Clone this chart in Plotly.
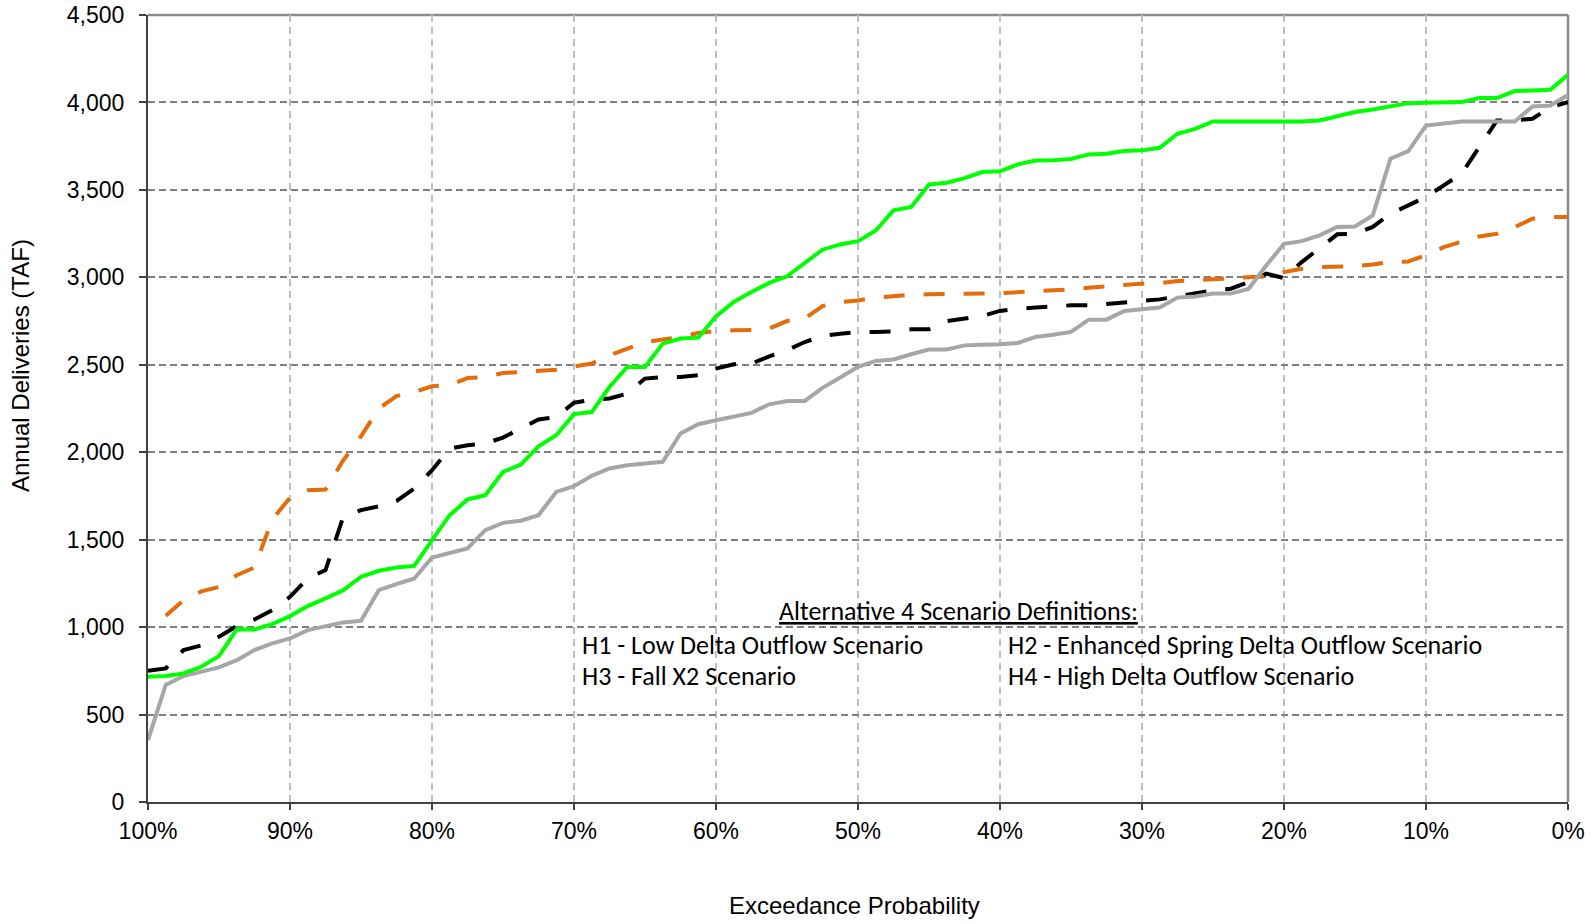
import plotly.graph_objects as go

# Exceedance probability (%) of each sorted annual value
exceedance = [
    100.0, 98.75, 97.5, 96.25, 95.0, 93.75, 92.5, 91.25, 90.0, 88.75,
    87.5, 86.25, 85.0, 83.75, 82.5, 81.25, 80.0, 78.75, 77.5, 76.25,
    75.0, 73.75, 72.5, 71.25, 70.0, 68.75, 67.5, 66.25, 65.0, 63.75,
    62.5, 61.25, 60.0, 58.75, 57.5, 56.25, 55.0, 53.75, 52.5, 51.25,
    50.0, 48.75, 47.5, 46.25, 45.0, 43.75, 42.5, 41.25, 40.0, 38.75,
    37.5, 36.25, 35.0, 33.75, 32.5, 31.25, 30.0, 28.75, 27.5, 26.25,
    25.0, 23.75, 22.5, 21.25, 20.0, 18.75, 17.5, 16.25, 15.0, 13.75,
    12.5, 11.25, 10.0, 8.75, 7.5, 6.25, 5.0, 3.75, 2.5, 1.25, 0.0,
]

green_solid = [
    716, 720, 735, 773, 834, 987, 986, 1017, 1063, 1120,
    1164, 1211, 1288, 1322, 1341, 1350, 1497, 1640, 1730, 1754,
    1887, 1929, 2034, 2097, 2218, 2230, 2373, 2488, 2488, 2621,
    2650, 2655, 2777, 2859, 2916, 2968, 3006, 3082, 3158, 3188,
    3207, 3268, 3383, 3402, 3531, 3541, 3567, 3602, 3606, 3646,
    3668, 3670, 3677, 3703, 3707, 3722, 3726, 3741, 3821, 3849,
    3891, 3891, 3891, 3891, 3891, 3891, 3897, 3922, 3945, 3960,
    3977, 3996, 3998, 4000, 4002, 4025, 4025, 4065, 4068, 4072, 4158,
]

gray_solid = [
    354, 669, 720, 745, 770, 811, 869, 907, 935, 983,
    1006, 1027, 1036, 1211, 1246, 1278, 1398, 1425, 1450, 1554,
    1596, 1608, 1640, 1773, 1806, 1865, 1907, 1926, 1935, 1945,
    2107, 2160, 2183, 2202, 2225, 2274, 2293, 2293, 2368, 2427,
    2488, 2522, 2530, 2560, 2587, 2587, 2611, 2615, 2617, 2625,
    2659, 2672, 2688, 2758, 2758, 2808, 2815, 2827, 2884, 2891,
    2907, 2907, 2933, 3068, 3192, 3207, 3240, 3288, 3291, 3354,
    3678, 3722, 3868, 3878, 3891, 3891, 3891, 3891, 3977, 3983, 4042,
]

black_dashed = [
    750, 764, 869, 895, 945, 1006, 1044, 1097, 1173, 1278,
    1326, 1630, 1669, 1691, 1722, 1792, 1897, 2021, 2040, 2050,
    2084, 2135, 2187, 2202, 2283, 2301, 2307, 2335, 2421, 2430,
    2430, 2440, 2478, 2503, 2507, 2548, 2583, 2630, 2665, 2678,
    2686, 2688, 2690, 2703, 2703, 2750, 2764, 2779, 2808, 2821,
    2827, 2835, 2840, 2840, 2850, 2855, 2865, 2874, 2891, 2910,
    2926, 2935, 2973, 3021, 2996, 3087, 3164, 3246, 3249, 3288,
    3364, 3411, 3459, 3526, 3592, 3745, 3897, 3897, 3907, 3973, 4001,
]

orange_dashed = [
    None, 1065, 1154, 1204, 1230, 1297, 1341, 1615, 1740, 1783,
    1787, 1954, 2091, 2250, 2321, 2345, 2377, 2384, 2424, 2430,
    2453, 2459, 2463, 2472, 2490, 2507, 2554, 2592, 2630, 2644,
    2659, 2682, 2693, 2697, 2699, 2707, 2750, 2764, 2836, 2859,
    2868, 2884, 2895, 2901, 2903, 2903, 2907, 2907, 2910, 2914,
    2918, 2926, 2931, 2941, 2949, 2954, 2964, 2967, 2979, 2983,
    2988, 2998, 3002, 3006, 3030, 3049, 3059, 3063, 3063, 3074,
    3087, 3091, 3126, 3173, 3202, 3234, 3249, 3288, 3335, 3345, 3345,
]

x_tick_vals = [100, 90, 80, 70, 60, 50, 40, 30, 20, 10, 0]
x_tick_text = ["100%", "90%", "80%", "70%", "60%", "50%", "40%", "30%", "20%", "10%", "0%"]
y_tick_vals = [0, 500, 1000, 1500, 2000, 2500, 3000, 3500, 4000, 4500]

header_text = "<u>Alternative 4 Scenario Definitions:</u>"
definitions = [
    ("H1 - Low Delta Outflow Scenario", 0.3042, 0.1990),
    ("H2 - Enhanced Spring Delta Outflow Scenario", 0.6042, 0.1990),
    ("H3 - Fall X2 Scenario", 0.3042, 0.1595),
    ("H4 - High Delta Outflow Scenario", 0.6042, 0.1595),
]

AX_FONT = "Arial, Liberation Sans, sans-serif"
NOTE_FONT = "Carlito, Open Sans, sans-serif"

fig = go.Figure()
fig.add_trace(go.Scatter(x=exceedance, y=black_dashed, mode="lines", name="black",
                         line=dict(color="#000000", width=4, dash="21px,19px")))
fig.add_trace(go.Scatter(x=exceedance, y=orange_dashed, mode="lines", name="orange",
                         line=dict(color="#E46C0A", width=4, dash="21px,19px")))
fig.add_trace(go.Scatter(x=exceedance, y=gray_solid, mode="lines", name="gray",
                         line=dict(color="#A6A6A6", width=4)))
fig.add_trace(go.Scatter(x=exceedance, y=green_solid, mode="lines", name="green",
                         line=dict(color="#00FF00", width=4)))

# Plot area at x 148..1568, y 15..802 in the window (page margin removed below)
fig.update_layout(
    width=1595, height=924,
    margin=dict(l=148, r=27, t=15, b=122, autoexpand=False),
    paper_bgcolor="white", plot_bgcolor="white",
    showlegend=False,
    font=dict(family=AX_FONT, color="#000000"),
)

fig.update_xaxes(
    range=[100, 0], tickvals=x_tick_vals, ticktext=x_tick_text,
    tickfont=dict(family=AX_FONT, size=23, color="#000000"),
    showgrid=True, gridcolor="#BFBFBF", gridwidth=1.5, griddash="7px,5px",
    showline=True, linecolor="#404040", linewidth=2,
    ticks="outside", ticklen=6, tickcolor="#404040", tickwidth=1.5,
    ticklabelstandoff=1, zeroline=False, automargin=False,
    ticklabeloverflow="allow",
)
fig.update_yaxes(
    range=[0, 4500], tickvals=y_tick_vals, tickformat=",",
    tickfont=dict(family=AX_FONT, size=23, color="#000000"),
    showgrid=True, gridcolor="#808080", gridwidth=2, griddash="7px,4px",
    showline=True, linecolor="#404040", linewidth=2,
    ticks="outside", ticklen=7, tickcolor="#404040", tickwidth=1.5,
    ticklabelstandoff=10, zeroline=False, automargin=False,
    ticklabeloverflow="allow",
)

# Top and right chart borders
fig.add_shape(type="line", xref="paper", yref="paper", x0=0, x1=1, y0=1, y1=1,
              line=dict(color="#8C8C8C", width=2.5), layer="between")
fig.add_shape(type="line", xref="paper", yref="paper", x0=1, x1=1, y0=0, y1=1,
              line=dict(color="#8C8C8C", width=2.5), layer="between")

# Axis titles
fig.add_annotation(text="Annual Deliveries (TAF)", xref="paper", yref="paper",
                   x=-0.0901, y=0.554, xanchor="center", yanchor="middle",
                   textangle=-90, showarrow=False,
                   font=dict(family=AX_FONT, size=24, color="#000000"))
fig.add_annotation(text="Exceedance Probability", xref="paper", yref="paper",
                   x=0.4972, y=-0.1309, xanchor="center", yanchor="middle",
                   showarrow=False,
                   font=dict(family=AX_FONT, size=24, color="#000000"))

# Scenario definitions text block
fig.add_annotation(text=header_text, xref="paper", yref="paper",
                   x=0.5710, y=0.2425, xanchor="center", yanchor="middle",
                   showarrow=False, font=dict(family=NOTE_FONT, size=26, color="#000000"))
for txt, xp, yp in definitions:
    fig.add_annotation(text=txt, xref="paper", yref="paper",
                       x=xp, y=yp, xanchor="left", yanchor="middle",
                       showarrow=False, font=dict(family=NOTE_FONT, size=26, color="#000000"))

fig.write_html(
    "out.html",
    config={"displayModeBar": False},
    post_script="document.body.style.margin='0';document.body.style.overflow='hidden';",
)
